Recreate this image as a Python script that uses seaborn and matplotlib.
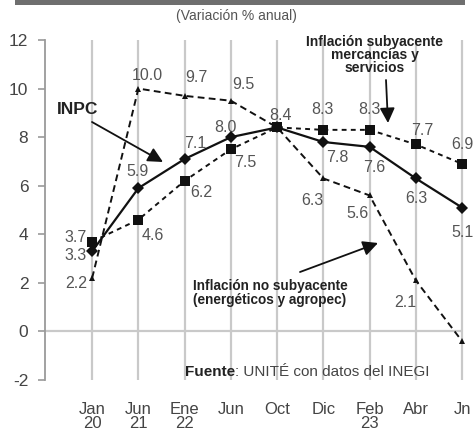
import matplotlib
matplotlib.use("Agg")
import matplotlib.pyplot as plt
from matplotlib.patches import Rectangle
import pandas as pd
import seaborn as sns

# --- data -------------------------------------------------------------
periods = ["Jan\n20", "Jun\n21", "Ene\n22", "Jun", "Oct", "Dic", "Feb\n23", "Abr", "Jn"]
inpc = [3.3, 5.9, 7.1, 8.0, 8.4, 7.8, 7.6, 6.3, 5.1]
subyacente = [3.7, 4.6, 6.2, 7.5, 8.4, 8.3, 8.3, 7.7, 6.9]
no_subyacente = [2.2, 10.0, 9.7, 9.5, 8.4, 6.3, 5.6, 2.1, -0.4]
y_ticks = [-2, 0, 2, 4, 6, 8, 10, 12]

# --- style -------------------------------------------------------------
sns.set_style("white")
plt.rcParams["font.family"] = ["Liberation Sans Narrow", "Liberation Sans", "DejaVu Sans"]

W, H = 475, 432
fig = plt.figure(figsize=(W / 100, H / 100), dpi=100)


def fx(px):
    return px / W


def fy(py):
    return 1 - py / H


ax = fig.add_axes([fx(45), fy(380), fx(475) - fx(45), fy(40) - fy(380)])
ax.set_xlim(-1.02, 8.28)
ax.set_ylim(-2, 12)

pos = list(range(len(periods)))
df = pd.DataFrame({"pos": pos, "INPC": inpc, "Sub": subyacente, "NoSub": no_subyacente})

grid_c = "#c9c9c9"
for p in pos:
    ax.axvline(p, color=grid_c, lw=1.6, zorder=0)
ax.hlines(0, -1.02, pos[-1], color=grid_c, lw=1.6, zorder=0)

sns.lineplot(data=df, x="pos", y="NoSub", ax=ax, color="#111111", lw=1.4,
             linestyle=(0, (3.5, 2.2)), marker="^", markersize=5,
             markeredgewidth=0, zorder=3)
sns.lineplot(data=df, x="pos", y="Sub", ax=ax, color="#111111", lw=1.4,
             linestyle=(0, (2.5, 2.2)), marker="s", markersize=7,
             markeredgewidth=0, zorder=4)
sns.lineplot(data=df, x="pos", y="INPC", ax=ax, color="#111111", lw=1.6,
             linestyle="-", marker="D", markersize=6,
             markeredgewidth=0, zorder=5)

# value labels (offsets in pixels, None = unlabeled)
lab_kw = dict(textcoords="offset pixels", ha="center", va="center",
              fontsize=11.5, color="#555555", annotation_clip=False)
offsets = {
    "INPC": [(-17, -4), (-1, 17), (11, 16), (-5, 10), (3, 12),
             (14, -16), (5, -21), (1, -20), (0, -25)],
    "Sub": [(-17, 4), (14, -16), (17, -12), (14, -13), None,
            (-1, 20), (0, 20), (6, 14), (0, 19)],
    "NoSub": [(-16, -5), (9, 13), (12, 18), (13, 16), None,
              (-11, -22), (-12, -18), (-11, -22), None],
}
for col in ["INPC", "Sub", "NoSub"]:
    for p, v, off in zip(pos, df[col], offsets[col]):
        if off is None:
            continue
        ax.annotate(f"{v:.1f}", (p, v), xytext=off, **lab_kw)

# axes
for s in ["top", "right", "bottom"]:
    ax.spines[s].set_visible(False)
ax.spines["left"].set_color("#9a9a9a")
ax.spines["left"].set_linewidth(1.3)
ax.set_yticks(y_ticks)
ax.set_yticklabels([str(t) for t in y_ticks])
ax.tick_params(axis="y", direction="out", length=5, width=1.2, color="#9a9a9a",
               pad=7, labelsize=12.5, labelcolor="#444444", left=True)
ax.set_xticks(pos)
ax.set_xticklabels(periods, linespacing=0.9)
ax.tick_params(axis="x", length=0, pad=16, labelsize=12, labelcolor="#444444")
ax.set_xlabel("")
ax.set_ylabel("")

# header band and subtitle
fig.patches.append(Rectangle((fx(15), fy(5)), fx(450), fy(0) - fy(5),
                             transform=fig.transFigure, color="#6f6f6f", lw=0))
fig.text(fx(236), fy(16), "(Variación % anual)", ha="center", va="center",
         fontsize=10, color="#555555")

# series call-outs
arrow_kw = dict(arrowstyle="-|>,head_length=0.9,head_width=0.45", color="#111111",
                lw=1.3, shrinkA=0, shrinkB=0)
ax.annotate("", xy=(fx(163), fy(162)), xycoords="figure fraction",
            xytext=(fx(92), fy(122)), textcoords="figure fraction",
            arrowprops=arrow_kw)
fig.text(fx(78), fy(110), "INPC", ha="center", va="center", fontsize=12.5,
         fontweight="bold", color="#222222")

ax.annotate("", xy=(fx(388), fy(123)), xycoords="figure fraction",
            xytext=(fx(386), fy(80)), textcoords="figure fraction",
            arrowprops=arrow_kw)
fig.text(fx(375), fy(55), "Inflación subyacente\nmercancías y\nservicios",
         ha="center", va="center", fontsize=10, fontweight="bold",
         color="#222222", linespacing=0.95)

ax.annotate("", xy=(fx(378), fy(243)), xycoords="figure fraction",
            xytext=(fx(300), fy(272)), textcoords="figure fraction",
            arrowprops=arrow_kw)
fig.text(fx(270), fy(293), "Inflación no subyacente\n(energéticos y agropec)",
         ha="center", va="center", fontsize=9.8, fontweight="bold",
         color="#222222", linespacing=1.0)

# source line
t1 = fig.text(fx(185), fy(372), "Fuente", ha="left", va="center", fontsize=11,
              fontweight="bold", color="#222222")
fig.canvas.draw()
bb = t1.get_window_extent()
fig.text(bb.x1 / W, fy(372), ": UNITÉ con datos del INEGI", ha="left",
         va="center", fontsize=11, color="#444444")

fig.savefig("out.png", dpi=100)
